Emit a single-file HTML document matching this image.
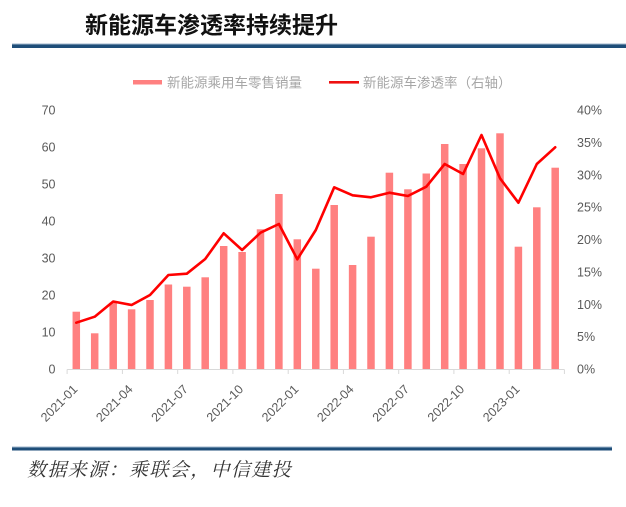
<!DOCTYPE html>
<html>
<head>
<meta charset="utf-8">
<style>
html,body{margin:0;padding:0;background:#fff;}
body{width:626px;height:507px;overflow:hidden;}
svg{display:block;}
</style>
</head>
<body>
<svg width="626" height="507" viewBox="0 0 626 507" xmlns="http://www.w3.org/2000/svg">
  <!-- title -->
  <text x="85" y="33" font-family="'Liberation Sans','Noto Sans CJK SC',sans-serif" font-size="23" font-weight="bold" fill="#111">新能源车渗透率持续提升</text>
  <rect x="12" y="43.5" width="614" height="1" fill="#9fb6cc"/>
  <rect x="12" y="44.5" width="614" height="3.5" fill="#1f4e79"/>

  <!-- legend -->
  <rect x="133" y="80" width="29" height="4.5" fill="#ff8080"/>
  <text x="167" y="87.5" font-family="'Liberation Sans','Noto Sans CJK SC',sans-serif" font-size="13.5" fill="#a6a6a6">新能源乘用车零售销量</text>
  <rect x="329" y="81" width="30" height="2.6" fill="#ee1111"/>
  <text x="363" y="87.5" font-family="'Liberation Sans','Noto Sans CJK SC',sans-serif" font-size="13.5" fill="#a6a6a6">新能源车渗透率（右轴）</text>

  <!-- left axis labels -->
  <g font-family="'Liberation Sans',sans-serif" font-size="12.5" fill="#5a5a5a" text-anchor="end">
    <text x="55.5" y="373.5">0</text>
    <text x="55.5" y="336.5">10</text>
    <text x="55.5" y="299.5">20</text>
    <text x="55.5" y="262.5">30</text>
    <text x="55.5" y="225.5">40</text>
    <text x="55.5" y="188.5">50</text>
    <text x="55.5" y="151.5">60</text>
    <text x="55.5" y="114.5">70</text>
  </g>
  <!-- right axis labels -->
  <g font-family="'Liberation Sans',sans-serif" font-size="12.5" fill="#5a5a5a" text-anchor="start">
    <text x="577" y="373.5">0%</text>
    <text x="577" y="341.1">5%</text>
    <text x="577" y="308.8">10%</text>
    <text x="577" y="276.4">15%</text>
    <text x="577" y="244">20%</text>
    <text x="577" y="211.6">25%</text>
    <text x="577" y="179.3">30%</text>
    <text x="577" y="146.9">35%</text>
    <text x="577" y="114.5">40%</text>
  </g>

  <!-- bars -->
  <g fill="#ff8080">
    <rect x="72.55" y="311.7" width="7.5" height="57.3"/>
    <rect x="90.95" y="333.3" width="7.5" height="35.7"/>
    <rect x="109.45" y="302.7" width="7.5" height="66.3"/>
    <rect x="127.85" y="309.3" width="7.5" height="59.7"/>
    <rect x="146.25" y="300" width="7.5" height="69"/>
    <rect x="164.65" y="284.5" width="7.5" height="84.5"/>
    <rect x="183.05" y="286.7" width="7.5" height="82.3"/>
    <rect x="201.45" y="277.3" width="7.5" height="91.7"/>
    <rect x="219.95" y="246" width="7.5" height="123"/>
    <rect x="238.35" y="252" width="7.5" height="117"/>
    <rect x="256.75" y="229.3" width="7.5" height="139.7"/>
    <rect x="275.15" y="194" width="7.5" height="175"/>
    <rect x="293.55" y="239.3" width="7.5" height="129.7"/>
    <rect x="312.05" y="268.7" width="7.5" height="100.3"/>
    <rect x="330.45" y="205" width="7.5" height="164"/>
    <rect x="348.85" y="265" width="7.5" height="104"/>
    <rect x="367.25" y="236.7" width="7.5" height="132.3"/>
    <rect x="385.65" y="172.7" width="7.5" height="196.3"/>
    <rect x="404.15" y="189.3" width="7.5" height="179.7"/>
    <rect x="422.55" y="173.5" width="7.5" height="195.5"/>
    <rect x="440.95" y="144" width="7.5" height="225"/>
    <rect x="459.35" y="164" width="7.5" height="205"/>
    <rect x="477.75" y="148.3" width="7.5" height="220.7"/>
    <rect x="496.25" y="133.3" width="7.5" height="235.7"/>
    <rect x="514.65" y="246.7" width="7.5" height="122.3"/>
    <rect x="533.05" y="207.3" width="7.5" height="161.7"/>
    <rect x="551.45" y="167.7" width="7.5" height="201.3"/>
  </g>

  <!-- x axis -->
  <line x1="67.1" y1="369.5" x2="564.4" y2="369.5" stroke="#d9d9d9" stroke-width="1"/>
  <g stroke="#d9d9d9" stroke-width="1">
    <line x1="67.1" y1="369.5" x2="67.1" y2="374"/>
    <line x1="122.4" y1="369.5" x2="122.4" y2="374"/>
    <line x1="177.7" y1="369.5" x2="177.7" y2="374"/>
    <line x1="232.9" y1="369.5" x2="232.9" y2="374"/>
    <line x1="288.2" y1="369.5" x2="288.2" y2="374"/>
    <line x1="343.4" y1="369.5" x2="343.4" y2="374"/>
    <line x1="398.7" y1="369.5" x2="398.7" y2="374"/>
    <line x1="453.9" y1="369.5" x2="453.9" y2="374"/>
    <line x1="509.2" y1="369.5" x2="509.2" y2="374"/>
    <line x1="564.4" y1="369.5" x2="564.4" y2="374"/>
  </g>

  <!-- line series -->
  <polyline fill="none" stroke="#ff0000" stroke-width="2.6" stroke-linejoin="round" stroke-linecap="round"
    points="76.3,322.7 94.7,316.7 113.2,301.5 131.6,305 150,295 168.4,275 186.8,273.7 205.2,259 223.7,233.3 242.1,250 260.5,232.7 278.9,224 297.3,259.3 315.8,230 334.2,187.3 352.6,195.3 371,197.3 389.4,192.7 407.9,196 426.3,186.7 444.7,164 463.1,174 481.5,135 500,178.3 518.4,202.7 536.8,164 555.2,147.3"/>

  <!-- x labels -->
  <g font-family="'Liberation Sans',sans-serif" font-size="12.5" fill="#5a5a5a" text-anchor="end">
    <text transform="translate(78.3,390) rotate(-45)">2021-01</text>
    <text transform="translate(133.6,390) rotate(-45)">2021-04</text>
    <text transform="translate(188.8,390) rotate(-45)">2021-07</text>
    <text transform="translate(244.1,390) rotate(-45)">2021-10</text>
    <text transform="translate(299.3,390) rotate(-45)">2022-01</text>
    <text transform="translate(354.6,390) rotate(-45)">2022-04</text>
    <text transform="translate(409.9,390) rotate(-45)">2022-07</text>
    <text transform="translate(465.1,390) rotate(-45)">2022-10</text>
    <text transform="translate(520.4,390) rotate(-45)">2023-01</text>
  </g>

  <!-- bottom rule -->
  <rect x="12" y="446.5" width="600" height="1" fill="#9fb6cc"/>
  <rect x="12" y="447.5" width="600" height="3" fill="#1f4e79"/>

  <!-- source -->
  <text x="27" y="476" font-family="'Liberation Serif','Noto Serif CJK SC',serif" font-size="19" font-style="italic" letter-spacing="1.4" fill="#333">数据来源：乘联会，中信建投</text>
</svg>
</body>
</html>
